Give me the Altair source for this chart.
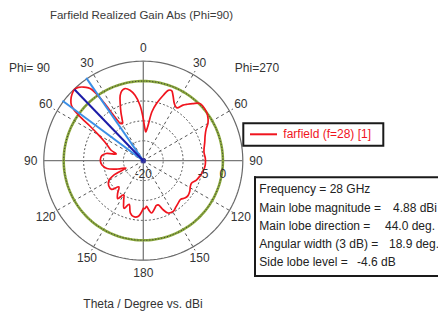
import altair as alt
import pandas as pd
import numpy as np

# ---------------- data ----------------
# Farfield realized gain (dBi) vs theta (deg); right half = Phi=270, left half = Phi=90
theta_phi270 = [0, 3, 5, 7.5, 10, 13, 17, 19.5, 22, 24.5, 28, 30, 32.5, 35.5, 38, 41, 44.6, 48,
                53, 57, 60, 63, 68, 73, 81.6, 88, 94, 100, 105, 110, 115, 119, 123.6, 128,
                132, 136, 140.6, 145, 149.5, 154.6, 158, 161.3, 164, 166.2, 171, 173.5, 175.8, 178, 180]
gain_phi270 = [-9.5, -12, -12.75, -11.25, -7.5, -5.25, -2.8, -1.25, -1.0, -2.0, -3.5, -4.0, -4.25, -2.85, -2.0, -1.0, 0.2, 0.28,
               0.0, -0.6, -1.25, -2.25, -3.25, -3.85, -4.6, -4.4, -4.4, -4.75, -5.25, -5.8, -6.65, -6.5, -6.0, -5.75,
               -5.95, -6.5, -6.2, -5.75, -5.2, -5.45, -6.7, -8.3, -8.25, -7.75, -6.7, -7.5, -8.5, -8.0, -8.0]
theta_phi90 = [180, 175, 170, 166, 162, 158, 154, 150, 146, 142, 137, 132, 126, 120, 116, 113, 108, 102,
               96, 89, 83, 79, 76, 72, 68, 64, 60, 57, 55.5, 54, 52.5, 50, 47, 44, 41.5, 39, 37, 36, 35,
               34, 33, 31.5, 29, 27, 25, 22, 19.5, 17, 14.2, 10.7, 7.2, 3.4, 0]
gain_phi90 = [-8.0, -6.0, -5.75, -6.5, -8.5, -7.1, -8.75, -10.1, -8.5, -9.5, -11.0, -9.25, -9.25, -10.0, -11.75, -15.25, -13.25, -10.65,
              -9.55, -9.2, -9.5, -10.5, -13.0, -11.5, -10.5, -9.25, -7.0, -4.0, -1.25, 1.25, 2.75, 3.75, 4.5, 4.88, 4.6, 3.8, 2.9, 2.2, 0.5,
              -3.0, -7.0, -9.0, -9.25, -8.25, -6.75, -4.5, -2.6, -1.6, -1.3, -2.0, -3.45, -6.05, -9.5]
assert len(theta_phi270) == len(gain_phi270) and len(theta_phi90) == len(gain_phi90)

main_lobe_dir = 44.0      # deg (Phi=90 side)
main_lobe_mag = 4.88      # dBi
beam_width = 18.9         # deg (3 dB)
grid_levels = [-15, -10, -5]
zero_level = 0
outer_level = 5
spoke_angles = [30, 60, 120, 150, 210, 240, 300, 330]
axis_angles = [0, 90, 180, 270]
angle_label_vals = [0, 30, 60, 90, 120, 150, 180]
db_labels = [-20, -5, 0]
info_labels = ["Main lobe magnitude =", "Main lobe direction =", "Angular width (3 dB) =", "Side lobe level ="]
info_values = ["4.88 dBi", "44.0 deg.", "18.9 deg.", "-4.6 dB"]

# ---------------- geometry (px) ----------------
K = 3.98                   # px per dB
R_MIN = -20
W, H = 430, 303
CXP, CYP = 135.3, 152.7    # centre inside plot area
xs = alt.Scale(domain=[-CXP, W - CXP], nice=False, zero=False)
ys = alt.Scale(domain=[CYP - H, CYP], nice=False, zero=False)
X = alt.X("x:Q", scale=xs, axis=None)
Y = alt.Y("y:Q", scale=ys, axis=None)


def polar_chart(df):
    c = alt.Chart(df)
    c = c.transform_calculate(r=f"(datum.db - ({R_MIN})) * {K}")
    c = c.transform_calculate(x="datum.r * sin(datum.ang * PI / 180)",
                              y="datum.r * cos(datum.ang * PI / 180)")
    return c


circ_ang = list(range(0, 361, 2))


def circle_df(levels):
    rows = []
    for lv in levels:
        for i, a in enumerate(circ_ang):
            rows.append({"lv": lv, "i": i, "ang": a, "db": lv})
    return pd.DataFrame(rows)


# grid circles
grid = polar_chart(circle_df(grid_levels)).mark_line(
    color="#555555", strokeWidth=1, strokeDash=[2, 2]).encode(
    x=X, y=Y, detail="lv:N", order="i:Q")
outer = polar_chart(circle_df([outer_level])).mark_line(
    color="#6a6a6a", strokeWidth=1.2).encode(x=X, y=Y, order="i:Q")
green = polar_chart(circle_df([zero_level])).mark_line(
    color="#8aa83c", strokeWidth=2.6).encode(x=X, y=Y, order="i:Q")
green_dots = polar_chart(circle_df([zero_level])).mark_line(
    color="#333333", strokeWidth=1, strokeDash=[1, 2]).encode(x=X, y=Y, order="i:Q")

# spokes
sp_rows = []
for a in spoke_angles:
    sp_rows += [{"a": a, "ang": a, "db": R_MIN, "i": 0}, {"a": a, "ang": a, "db": outer_level + 1.0, "i": 1}]
spokes = polar_chart(pd.DataFrame(sp_rows)).mark_line(
    color="#555555", strokeWidth=1, strokeDash=[3, 3]).encode(
    x=X, y=Y, detail="a:N", order="i:Q")
ax_rows = []
for a in axis_angles:
    ax_rows += [{"a": a, "ang": a, "db": R_MIN, "i": 0}, {"a": a, "ang": a, "db": outer_level, "i": 1}]
axes_l = polar_chart(pd.DataFrame(ax_rows)).mark_line(
    color="#7a7a7a", strokeWidth=1.3).encode(x=X, y=Y, detail="a:N", order="i:Q")

# pattern
pat = pd.DataFrame({
    "ang": list(theta_phi270) + [360 - t for t in theta_phi90],
    "db": list(gain_phi270) + list(gain_phi90),
})
pat["i"] = range(len(pat))
pattern = polar_chart(pat).mark_line(
    color="#f0141e", strokeWidth=1.7, interpolate="catmull-rom").encode(x=X, y=Y, order="i:Q")

# main lobe / beamwidth lines
bl_rows = []
for k, (a, m) in enumerate([(main_lobe_dir - beam_width / 2, main_lobe_mag + 0.4),
                            (main_lobe_dir + beam_width / 2, main_lobe_mag + 0.4)]):
    bl_rows += [{"k": k, "ang": 360 - a, "db": R_MIN, "i": 0}, {"k": k, "ang": 360 - a, "db": m, "i": 1}]
beam = polar_chart(pd.DataFrame(bl_rows)).mark_line(
    color="#3b8fe6", strokeWidth=2).encode(x=X, y=Y, detail="k:N", order="i:Q")
ml_rows = [{"ang": 360 - main_lobe_dir, "db": R_MIN, "i": 0},
           {"ang": 360 - main_lobe_dir, "db": main_lobe_mag, "i": 1}]
mainl = polar_chart(pd.DataFrame(ml_rows)).mark_line(
    color="#1c1ca8", strokeWidth=2).encode(x=X, y=Y, order="i:Q")
dot = polar_chart(pd.DataFrame([{"ang": 0, "db": R_MIN}])).mark_point(
    color="#1c1ca8", filled=True, size=30).encode(x=X, y=Y)

# angle labels
LBL_DB = outer_level + 3.3
al_rows = []
for v in angle_label_vals:
    al_rows.append({"t": str(v), "ang": v, "db": LBL_DB})
    if v not in (0, 180):
        al_rows.append({"t": str(v), "ang": 360 - v, "db": LBL_DB})
ang_labels = polar_chart(pd.DataFrame(al_rows)).mark_text(
    font="Liberation Sans", fontSize=12, color="#333333", baseline="middle", align="center").encode(
    x=X, y=Y, text="t:N")

# dB labels
dbl = pd.DataFrame({"t": [str(v) for v in db_labels], "db": db_labels})
db_text = alt.Chart(dbl).transform_calculate(
    x=f"(datum.db - ({R_MIN})) * {K}", y="-13.3").mark_text(
    font="Liberation Sans", fontSize=12, color="#333333", baseline="middle", align="center").encode(
    x=X, y=Y, text="t:N")

one = pd.DataFrame({"a": [0]})


def txt(s, x, y, size=12, color="#333333", align="left", **kw):
    return alt.Chart(one).mark_text(
        text=s, x=x - 8, y=y - 8, font="Liberation Sans", fontSize=size, color=color,
        align=align, baseline="middle", **kw)


def hline(x1, x2, y, w=2, color="#1a1a1a"):
    return alt.Chart(one).mark_rule(color=color, strokeWidth=w).encode(
        x=alt.value(x1 - 8), x2=alt.value(x2 - 8), y=alt.value(y - 8))


def vline(x, y1, y2, w=2, color="#1a1a1a"):
    return alt.Chart(one).mark_rule(color=color, strokeWidth=w).encode(
        x=alt.value(x - 8), y=alt.value(y1 - 8), y2=alt.value(y2 - 8))


title = txt("Farfield Realized Gain Abs (Phi=90)", 141.5, 15.7, size=11.5, align="center", color="#3a3a3a")
xlab = txt("Theta / Degree vs. dBi", 143, 304, size=12, align="center", color="#333333")
phi_l = txt("Phi= 90", 29.5, 67.7, align="center")
phi_r = txt("Phi=270", 257, 67.5, align="center")

# legend box
leg_box = alt.Chart(one).mark_rect(
    x=243.3 - 8, x2=383.3 - 8, y=123.3 - 8, y2=145.7 - 8, fill="white", stroke="#1a1a1a", strokeWidth=2)
leg_line = hline(250, 277, 134.3, w=2, color="#f0141e")
leg_txt = txt("farfield (f=28) [1]", 283.3, 134.3, size=12, color="#f0141e")

# info box (right side runs off the picture)
info_edges = [hline(254, 460, 177.3), hline(254, 460, 276), vline(255, 176.3, 277)]
info_y = [207.5, 225.8, 243.5, 261.8]
info_vx = [393, 385, 389, 357]
info_layers = [txt("Frequency = 28 GHz", 259.3, 189.3, color="#222222")]
for s, v, yy, vx in zip(info_labels, info_values, info_y, info_vx):
    info_layers.append(txt(s, 259.3, yy, color="#222222"))
    info_layers.append(txt(v, vx, yy, size=12, color="#222222"))

chart = alt.layer(
    grid, spokes, outer, axes_l, green, green_dots, pattern, beam, mainl, dot,
    ang_labels, db_text, title, xlab, phi_l, phi_r,
    leg_box, leg_line, leg_txt, *info_edges, *info_layers
).properties(
    width=W, height=H, padding=0, autosize=alt.AutoSizeParams(type="none"),
    background="white"
).configure_view(stroke=None)

chart.save("out.html", embed_options={"renderer": "svg", "actions": False})
